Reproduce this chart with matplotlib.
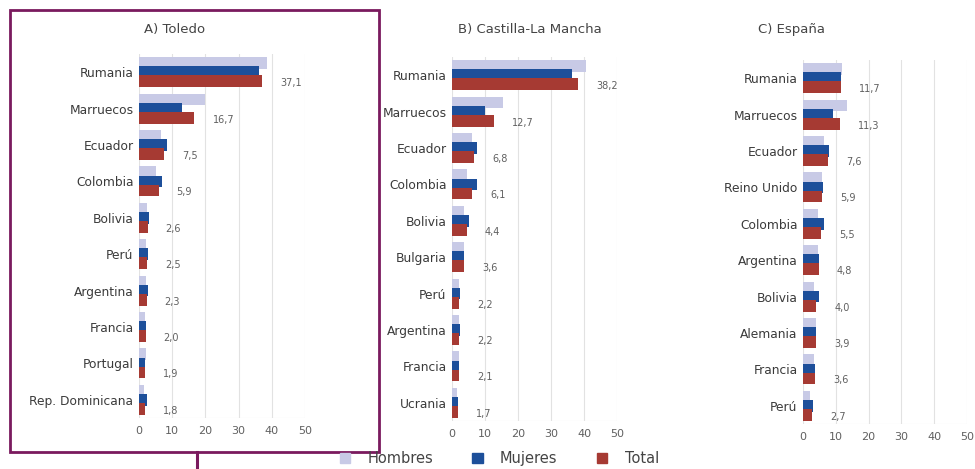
import matplotlib
matplotlib.use("Agg")
import matplotlib.pyplot as plt
import matplotlib.patches as patches
from matplotlib.lines import Line2D

# A) Toledo
toledo_paises = ["Rumania", "Marruecos", "Ecuador", "Colombia", "Bolivia", "Perú",
                 "Argentina", "Francia", "Portugal", "Rep. Dominicana"]
toledo_hombres = [38.5, 20.0, 6.5, 5.0, 2.4, 2.2, 2.1, 1.8, 2.0, 1.4]
toledo_mujeres = [36.0, 13.0, 8.5, 7.0, 2.9, 2.8, 2.6, 2.2, 1.7, 2.4]
toledo_total = [37.1, 16.7, 7.5, 5.9, 2.6, 2.5, 2.3, 2.0, 1.9, 1.8]

# B) Castilla-La Mancha
clm_paises = ["Rumania", "Marruecos", "Ecuador", "Colombia", "Bolivia", "Bulgaria",
              "Perú", "Argentina", "Francia", "Ucrania"]
clm_hombres = [40.5, 15.5, 6.0, 4.5, 3.5, 3.5, 2.0, 2.0, 2.0, 1.5]
clm_mujeres = [36.5, 10.0, 7.5, 7.5, 5.0, 3.7, 2.5, 2.4, 2.2, 1.9]
clm_total = [38.2, 12.7, 6.8, 6.1, 4.4, 3.6, 2.2, 2.2, 2.1, 1.7]

# C) España
esp_paises = ["Rumania", "Marruecos", "Ecuador", "Reino Unido", "Colombia", "Argentina",
              "Bolivia", "Alemania", "Francia", "Perú"]
esp_hombres = [12.0, 13.5, 6.5, 5.8, 4.5, 4.5, 3.5, 4.0, 3.5, 2.2]
esp_mujeres = [11.5, 9.0, 8.0, 6.0, 6.5, 5.0, 4.8, 4.0, 3.8, 3.0]
esp_total = [11.7, 11.3, 7.6, 5.9, 5.5, 4.8, 4.0, 3.9, 3.6, 2.7]

titulos = ["A) Toledo", "B) Castilla-La Mancha", "C) España"]
series = ["Hombres", "Mujeres", "Total"]
xticks = [0, 10, 20, 30, 40, 50]

COL_H = "#c8cae6"
COL_M = "#1d4f9a"
COL_T = "#a63a33"
GRAY = "#606060"

fig = plt.figure(figsize=(9.75, 4.69), dpi=100)

# axes rectangles in pixels: left, top, right, bottom
boxes = [(139, 54, 305, 418), (452, 57, 617, 421), (803, 60, 967, 424)]
title_x = [175, 530, 792]
panels = [
    (toledo_paises, toledo_hombres, toledo_mujeres, toledo_total),
    (clm_paises, clm_hombres, clm_mujeres, clm_total),
    (esp_paises, esp_hombres, esp_mujeres, esp_total),
]

W, H = 975, 469
for (l, t, r, b), (paises, hom, muj, tot), titulo, tx in zip(boxes, panels, titulos, title_x):
    ax = fig.add_axes([l / W, 1 - b / H, (r - l) / W, (b - t) / H])
    y = list(range(len(paises)))
    ax.barh([v - 0.25 for v in y], hom, height=0.32, color=COL_H, zorder=2)
    ax.barh(y, muj, height=0.32, color=COL_M, zorder=3)
    ax.barh([v + 0.25 for v in y], tot, height=0.32, color=COL_T, zorder=4)
    for yi, v in zip(y, tot):
        ax.annotate(f"{v:.1f}".replace(".", ","), (v, yi + 0.3),
                    xytext=(13, 0), textcoords="offset points",
                    ha="left", va="center", fontsize=7, color=GRAY)
    ax.set_yticks(y)
    ax.set_yticklabels(paises, fontsize=8.8, color="#3a3a3a")
    ax.set_ylim(len(paises) - 0.5, -0.5)
    ax.set_xlim(0, 50)
    ax.set_xticks(xticks)
    ax.set_xticklabels([str(x) for x in xticks], fontsize=8, color=GRAY)
    ax.tick_params(length=0, pad=6)
    ax.tick_params(axis="y", pad=4)
    ax.grid(axis="x", color="#e2e2e2", linewidth=0.8, zorder=0)
    for s in ax.spines.values():
        s.set_visible(False)
    ax.axhline(len(paises) - 0.5, color="#e2e2e2", linewidth=0.8, zorder=1)
    fig.text(tx / W, 1 - 29 / H, titulo, ha="center", va="center",
             fontsize=9.5, color="#444444")

# purple frame around panel A
frame = patches.Rectangle((10 / W, 1 - 452 / H), 369 / W, 442 / H,
                          transform=fig.transFigure, fill=False,
                          edgecolor="#7a1a5e", linewidth=2)
fig.add_artist(frame)
fig.add_artist(Line2D([197 / W, 197 / W], [1 - 452 / H, 0],
                      transform=fig.transFigure, color="#7a1a5e", linewidth=2.2))

handles = [patches.Patch(color=c) for c in (COL_H, COL_M, COL_T)]
fig.legend(handles, series, loc="center", bbox_to_anchor=(0.512, 0.022), ncol=3,
           frameon=False, fontsize=10.5, handlelength=0.7, handleheight=0.7,
           columnspacing=2.7, handletextpad=1.2, labelcolor="#444444")

fig.savefig("out.png", dpi=100, facecolor="white")
